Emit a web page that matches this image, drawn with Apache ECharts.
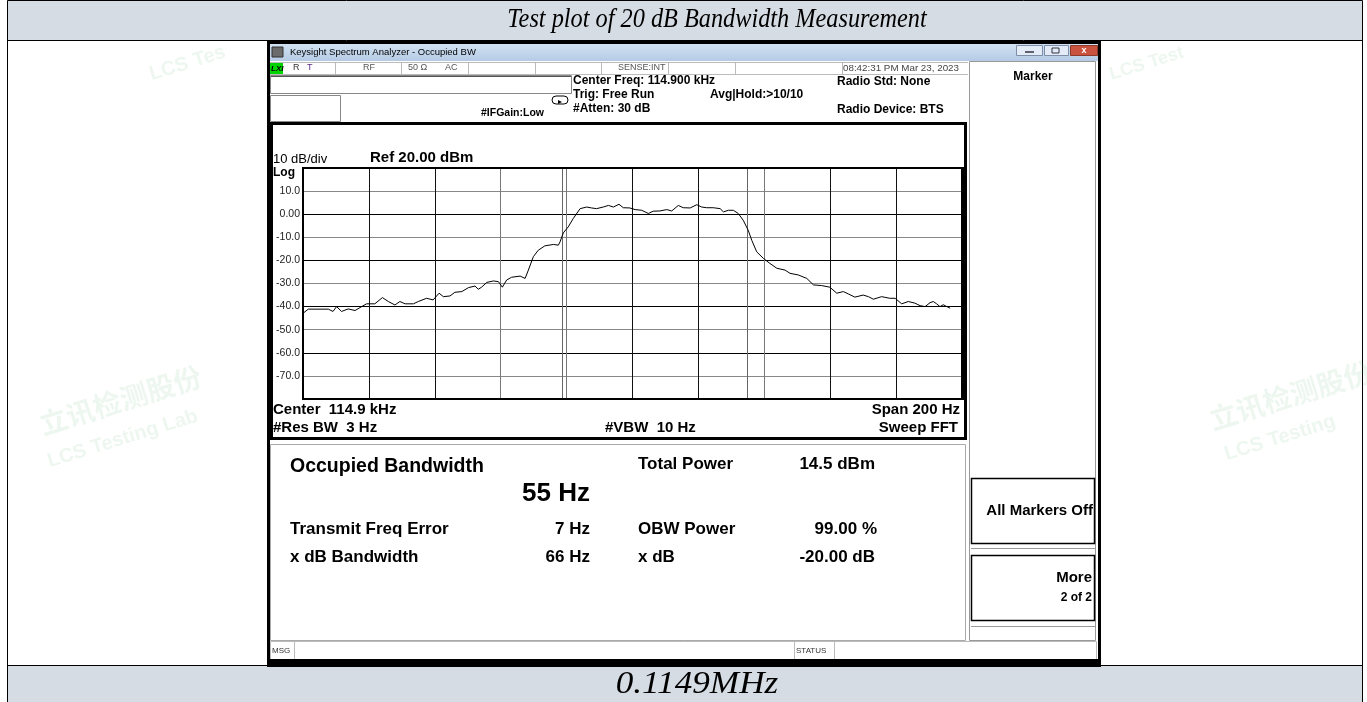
<!DOCTYPE html>
<html>
<head>
<meta charset="utf-8">
<title>Test plot of 20 dB Bandwidth Measurement</title>
<script src="https://cdn.jsdelivr.net/npm/echarts@6/dist/echarts.min.js"></script>
<style>
  html, body { margin: 0; padding: 0; background: #fff; }
  #main { width: 1367px; height: 702px; }
</style>
</head>
<body>
<div id="main"></div>
<script>
// trace: offset from 114.900 kHz (Hz) and level (dBm)
var freqHz = [-100.0, -98.4, -92.3, -90.9, -89.8, -88.3, -86.3, -84.2, -82.2, -80.7,
  -78.2, -75.9, -74.1, -72.1, -70.6, -69.0, -66.5, -65.0, -62.5, -60.5,
  -58.7, -57.4, -55.4, -53.9, -51.8, -49.8, -47.8, -46.8, -45.8, -44.2,
  -42.2, -40.7, -39.5, -38.2, -36.7, -34.1, -32.6, -31.6, -30.1, -28.6,
  -26.6, -24.0, -22.5, -22.0, -21.0, -19.5, -18.0, -15.9, -13.9, -12.4,
  -10.9, -8.9, -7.3, -5.8, -4.1, -2.8, -0.8, 0.8, 2.8, 4.8,
  6.3, 8.3, 10.4, 11.9, 13.9, 15.4, 17.5, 19.5, 21.0, 22.5,
  24.5, 26.6, 27.6, 29.1, 30.6, 32.1, 33.6, 35.1, 36.2, 37.7,
  39.7, 41.7, 43.8, 46.3, 47.8, 50.3, 52.9, 54.9, 57.4, 59.9,
  62.0, 64.0, 65.5, 67.5, 70.0, 71.6, 73.1, 75.6, 78.1, 79.7,
  81.7, 83.7, 85.7, 87.3, 88.8, 90.3, 91.3, 92.3, 93.3, 94.3,
  95.4, 96.4];
var levelDbm = [-42.9, -41.1, -41.1, -42.1, -40.0, -42.1, -41.0, -41.7, -40.0, -38.8,
  -38.8, -36.1, -37.8, -39.3, -37.8, -38.8, -38.8, -37.8, -36.4, -37.1,
  -34.2, -35.7, -35.4, -33.8, -33.5, -31.8, -31.1, -32.5, -31.6, -29.5,
  -28.9, -29.2, -31.6, -28.5, -27.3, -26.8, -27.8, -24.2, -18.4, -15.6,
  -13.7, -13.1, -13.4, -12.0, -8.1, -5.5, -1.9, 2.4, 3.1, 2.7,
  2.4, 3.1, 3.8, 3.1, 4.3, 2.8, 2.7, 2.0, 1.7, 0.3,
  1.3, 1.4, 2.0, 1.4, 3.8, 2.8, 2.7, 4.1, 3.1, 2.8,
  2.8, 2.4, 1.0, 1.7, 1.7, 0.3, -2.6, -6.9, -11.3, -16.3,
  -19.1, -21.3, -23.4, -24.2, -25.6, -26.3, -27.8, -30.6, -30.9, -31.6,
  -34.2, -33.5, -34.5, -35.9, -35.0, -35.7, -36.8, -35.7, -36.4, -36.4,
  -38.8, -37.8, -38.5, -39.6, -40.0, -38.3, -37.8, -38.8, -40.0, -39.2,
  -40.0, -40.7];

// occupied bandwidth edges (Hz offset)
var obwEdgesHz = [-21.3, 34.8];

// y tick labels as printed on screen
var yTickValues = [10, 0, -10, -20, -30, -40, -50, -60, -70];
var yTickLabels = ['10.0', '0.00', '-10.0', '-20.0', '-30.0', '-40.0', '-50.0', '-60.0', '-70.0'];

var SANS = '"Liberation Sans", Arial, sans-serif';
var SERIF = '"Liberation Serif", "Times New Roman", serif';

var chartDom = document.getElementById('main');
var myChart = echarts.init(chartDom, null, {renderer: 'canvas'});

var g = [];
function txt(x, y, s, font, opt) {
    opt = opt || {};
    var el = {
        type: 'text', x: x, y: y, z: opt.z || 20, silent: true,
        style: {
            text: s, font: font, fill: opt.color || '#000',
            align: opt.align || 'left', textAlign: opt.align || 'left',
            verticalAlign: 'middle', textVerticalAlign: 'middle'
        }
    };
    if (opt.scaleX) el.scaleX = opt.scaleX;
    if (opt.rotation) el.rotation = opt.rotation;
    g.push(el);
}
function box(x, y, w, h, fill, stroke, lw, z) {
    g.push({
        type: 'rect', z: z || 5, silent: true,
        shape: {x: x, y: y, width: w, height: h},
        style: {fill: fill || 'none', stroke: stroke || 'none', lineWidth: lw || 1}
    });
}
function ln(x1, y1, x2, y2, color, lw, z) {
    g.push({
        type: 'line', z: z || 6, silent: true,
        shape: {x1: x1, y1: y1, x2: x2, y2: y2},
        style: {stroke: color, lineWidth: lw || 1}
    });
}

// ---- report table ----
box(7.5, 0.5, 1355, 40, '#D6DCE4', '#000', 1, 1);
box(7.5, 665.5, 1355, 40, '#D6DCE4', '#000', 1, 1);
ln(7.5, 40, 7.5, 666, '#000', 1, 1);
ln(1362.5, 40, 1362.5, 666, '#000', 1, 1);
txt(717, 20, 'Test plot of 20 dB Bandwidth Measurement', 'italic 27px ' + SERIF, {align: 'center', scaleX: 0.9});
txt(697, 685, '0.1149MHz', 'italic 32px ' + SERIF, {align: 'center', scaleX: 1.1});

// faint watermarks
var wm = 'rgba(110,190,130,0.12)';
txt(40, 425, '立讯检测股份', 'bold 28px "Noto Sans CJK SC", sans-serif', {color: wm, rotation: 0.3, z: 0});
txt(48, 462, 'LCS Testing Lab', 'bold 20px ' + SANS, {color: wm, rotation: 0.3, z: 0});
txt(1210, 420, '立讯检测股份', 'bold 28px "Noto Sans CJK SC", sans-serif', {color: wm, rotation: 0.3, z: 0});
txt(1225, 455, 'LCS Testing', 'bold 20px ' + SANS, {color: wm, rotation: 0.3, z: 0});
txt(150, 75, 'LCS Tes', 'bold 20px ' + SANS, {color: wm, rotation: 0.3, z: 0});
txt(1110, 75, 'LCS Test', 'bold 18px ' + SANS, {color: wm, rotation: 0.3, z: 0});

// ---- analyzer window ----
g.push({
    type: 'rect', z: 3, silent: true,
    shape: {x: 270, y: 43, width: 828, height: 18},
    style: {fill: new echarts.graphic.LinearGradient(0, 0, 0, 1, [
        {offset: 0, color: '#d3e3f4'}, {offset: 1, color: '#b5cbe4'}])}
});
box(272, 47, 11, 10, '#6b6b6b', '#333', 1, 4);
txt(290, 52, 'Keysight Spectrum Analyzer - Occupied BW', '9.5px ' + SANS);
box(1016.5, 45.5, 26, 10, '#e3ecf6', '#7d8ea6', 1, 4);
box(1044.5, 45.5, 24, 10, '#e3ecf6', '#7d8ea6', 1, 4);
box(1070.5, 45.5, 27, 10, '#c9533f', '#8b3a2c', 1, 4);
ln(1025, 52, 1034, 52, '#334', 1.5, 7);
box(1052, 48, 7, 5, 'none', '#334', 1, 7);
txt(1084, 50.5, 'x', 'bold 9px ' + SANS, {align: 'center', color: '#fff'});
box(268.5, 42.5, 831, 623, 'none', '#000', 3, 8);
box(268, 659, 832, 7, '#000', 'none', 1, 8);

// status row
ln(270, 62.5, 968, 62.5, '#bbb', 1);
ln(270, 74.5, 968, 74.5, '#bbb', 1);
[335, 401, 468, 535, 601, 668, 735, 842].forEach(function (x) {
    ln(x + 0.5, 62, x + 0.5, 75, '#bbb', 1);
});
box(270, 63, 13, 11, '#00d400', 'none', 1, 6);
txt(271, 68.5, 'LXI', 'italic bold 8px ' + SANS);
txt(293, 68, 'R', '9px ' + SANS, {color: '#333'});
txt(307, 68, 'T', '9px ' + SANS, {color: '#5a2a8a'});
txt(363, 68, 'RF', '9px ' + SANS, {color: '#555'});
txt(408, 68, '50 Ω', '9px ' + SANS, {color: '#555'});
txt(445, 68, 'AC', '9px ' + SANS, {color: '#555'});
txt(618, 68, 'SENSE:INT', '9px ' + SANS, {color: '#555'});
txt(843, 68, '08:42:31 PM Mar 23, 2023', '9.8px ' + SANS, {color: '#444'});

// entry boxes and header info
box(270.5, 75.5, 301, 18, '#fff', '#888', 1, 4);
ln(271, 76.5, 571, 76.5, '#555', 1);
box(270.5, 95.5, 70, 26, '#fff', '#888', 1, 4);
g.push({type: 'rect', z: 6, silent: true, shape: {x: 552, y: 96, width: 16, height: 8, r: 4},
    style: {fill: 'none', stroke: '#000', lineWidth: 1}});
g.push({type: 'polygon', z: 7, silent: true, shape: {points: [[558, 100], [562, 102], [558, 104]]},
    style: {fill: '#000'}});
txt(481, 113, '#IFGain:Low', 'bold 10.5px ' + SANS);
txt(573, 81, 'Center Freq: 114.900 kHz', 'bold 12px ' + SANS);
txt(573, 95, 'Trig: Free Run', 'bold 12px ' + SANS);
txt(573, 109, '#Atten: 30 dB', 'bold 12px ' + SANS);
txt(710, 95, 'Avg|Hold:>10/10', 'bold 12px ' + SANS);
txt(837, 82, 'Radio Std: None', 'bold 12px ' + SANS);
txt(837, 110, 'Radio Device: BTS', 'bold 12px ' + SANS);

// softkey panel
box(969.5, 61.5, 126, 579, 'none', '#999', 1, 4);
txt(1033, 77, 'Marker', 'bold 12px ' + SANS, {align: 'center'});
box(971.5, 478.5, 123, 65, 'none', '#000', 1.5, 5);
ln(971, 548.5, 1095, 548.5, '#999', 1);
txt(1093, 511, 'All Markers Off', 'bold 15px ' + SANS, {align: 'right'});
box(971.5, 555.5, 123, 65, 'none', '#000', 1.5, 5);
ln(971, 626.5, 1095, 626.5, '#999', 1);
txt(1092, 578, 'More', 'bold 15px ' + SANS, {align: 'right'});
txt(1092, 598, '2 of 2', 'bold 12px ' + SANS, {align: 'right'});

// graph box
box(271.5, 123.5, 694, 315, 'none', '#000', 3, 5);
txt(273, 159, '10 dB/div', '13px ' + SANS);
txt(370, 158, 'Ref 20.00 dBm', 'bold 15px ' + SANS);
txt(273, 173, 'Log', 'bold 12px ' + SANS);
box(303, 168, 659, 231, 'none', '#000', 2, 9);
ln(963, 167, 963, 400, '#000', 2, 9);
txt(273, 410, 'Center  114.9 kHz', 'bold 15px ' + SANS);
txt(273, 428, '#Res BW  3 Hz', 'bold 15px ' + SANS);
txt(605, 428, '#VBW  10 Hz', 'bold 15px ' + SANS);
txt(960, 410, 'Span 200 Hz', 'bold 15px ' + SANS, {align: 'right'});
txt(958, 428, 'Sweep FFT', 'bold 15px ' + SANS, {align: 'right'});

// measurement panel
box(270.5, 444.5, 695, 196, 'none', '#aaa', 1, 4);
txt(290, 467, 'Occupied Bandwidth', 'bold 19.5px ' + SANS);
txt(590, 494, '55 Hz', 'bold 26px ' + SANS, {align: 'right'});
txt(638, 464, 'Total Power', 'bold 17px ' + SANS);
txt(875, 464, '14.5 dBm', 'bold 17px ' + SANS, {align: 'right'});
txt(290, 529, 'Transmit Freq Error', 'bold 17px ' + SANS);
txt(590, 529, '7 Hz', 'bold 17px ' + SANS, {align: 'right'});
txt(638, 529, 'OBW Power', 'bold 17px ' + SANS);
txt(877, 529, '99.00 %', 'bold 17px ' + SANS, {align: 'right'});
txt(290, 557, 'x dB Bandwidth', 'bold 17px ' + SANS);
txt(590, 557, '66 Hz', 'bold 17px ' + SANS, {align: 'right'});
txt(638, 557, 'x dB', 'bold 17px ' + SANS);
txt(875, 557, '-20.00 dB', 'bold 17px ' + SANS, {align: 'right'});

// message bar
box(270.5, 641.5, 826, 18, 'none', '#bbb', 1, 4);
ln(294.5, 642, 294.5, 659, '#bbb', 1);
ln(794.5, 642, 794.5, 659, '#bbb', 1);
ln(834.5, 642, 834.5, 659, '#bbb', 1);
txt(272, 651, 'MSG', '8px ' + SANS, {color: '#333'});
txt(796, 651, 'STATUS', '8px ' + SANS, {color: '#333'});

var trace = freqHz.map(function (f, i) { return [f, levelDbm[i]]; });

var option = {
    animation: false,
    backgroundColor: '#fff',
    grid: {left: 303, top: 168, width: 659, height: 231, containLabel: false},
    xAxis: {
        type: 'value', min: -100, max: 100, interval: 20,
        axisLine: {show: false}, axisTick: {show: false}, axisLabel: {show: false},
        splitLine: {show: true, lineStyle: {width: 1,
            color: ['#000', '#111', '#111', '#777', '#777', '#111', '#111', '#777', '#111', '#111', '#000']}}
    },
    yAxis: {
        type: 'value', min: -80, max: 20, interval: 10,
        axisLine: {show: false}, axisTick: {show: false},
        axisLabel: {
            margin: 3, fontSize: 10.5, fontFamily: SANS, color: '#222',
            formatter: function (v) {
                var i = yTickValues.indexOf(v);
                return i < 0 ? '' : yTickLabels[i];
            }
        },
        splitLine: {show: true, lineStyle: {width: 1, color: ['#000', '#888']}}
    },
    series: [{
        type: 'line',
        data: trace,
        symbol: 'none',
        z: 5,
        lineStyle: {color: '#000', width: 1},
        markLine: {
            silent: true,
            symbol: ['none', 'none'],
            label: {show: false},
            lineStyle: {color: '#666', width: 1, type: 'solid'},
            data: obwEdgesHz.map(function (v) { return {xAxis: v}; })
        }
    }],
    graphic: g
};

myChart.setOption(option);
</script>
</body>
</html>
